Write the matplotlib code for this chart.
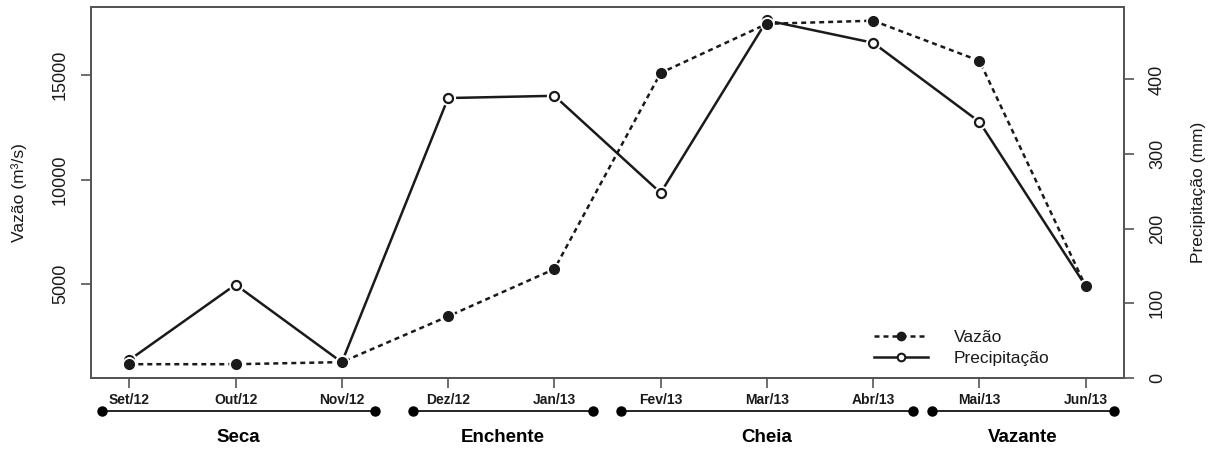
import matplotlib.pyplot as plt
import numpy as np

plt.rcParams['font.family'] = ['Liberation Sans', 'DejaVu Sans']

# monthly means, Sep/2012 - Jun/2013
meses = ['Set/12', 'Out/12', 'Nov/12', 'Dez/12', 'Jan/13',
         'Fev/13', 'Mar/13', 'Abr/13', 'Mai/13', 'Jun/13']
vazao = [1170, 1170, 1270, 3460, 5720, 15100, 17450, 17600, 15680, 4890]
precip = [24, 125, 21, 375, 378, 248, 479, 449, 343, 123]

# hydrological periods: name, start, end (month index)
periodos = ['Seca', 'Enchente', 'Cheia', 'Vazante']
inicio = [0.74, 3.67, 5.63, 8.55]
fim = [3.31, 5.36, 8.37, 10.27]

x = np.arange(1, len(meses) + 1)
fg = '#1a1a1a'
box = '#555555'

fig = plt.figure(figsize=(12.22, 4.51), dpi=100)
ax = fig.add_axes([0.0745, 0.162, 0.8453, 0.8225])
ax2 = ax.twinx()
ax.set_zorder(ax2.get_zorder() + 1)
ax.patch.set_visible(False)

# precipitation (right axis): solid line, open circles
ax2.plot(x, precip, color=fg, lw=1.8, zorder=1)
ax2.plot(x, precip, ls='none', marker='o', ms=11, mfc='white', mec='none', zorder=2)
ax2.plot(x, precip, ls='none', marker='o', ms=6.5, mfc='white', mec=fg, mew=1.6, zorder=3)

# discharge (left axis): dotted line, filled circles
ax.plot(x, vazao, color=fg, lw=1.8, ls=(0, (2.0, 1.6)), zorder=1)
ax.plot(x, vazao, ls='none', marker='o', ms=10.5, mfc='white', mec='none', zorder=2)
ax.plot(x, vazao, ls='none', marker='o', ms=7, mfc=fg, mec=fg, zorder=3)

ax.set_xlim(0.64, 10.36)
ax.set_ylim(513, 18255)
ax2.set_ylim(0, 497)

ax.set_xticks(x)
ax.set_xticklabels(meses, fontsize=10, fontweight='bold', color=fg)
ax.set_yticks([5000, 10000, 15000])
ax.set_yticklabels(['5000', '10000', '15000'], rotation=90, va='center', fontsize=13, color=fg)
ax2.set_yticks([0, 100, 200, 300, 400])
ax2.set_yticklabels(['0', '100', '200', '300', '400'], rotation=90, va='center', fontsize=13, color=fg)

ax.tick_params(axis='x', length=7, width=1.2, color=box, pad=4)
ax.tick_params(axis='y', length=7, width=1.2, color=box, pad=9)
ax2.tick_params(axis='y', length=7, width=1.2, color=box, pad=11)

for a in (ax, ax2):
    for s in a.spines.values():
        s.set_color(box)
        s.set_linewidth(1.4)

ax.set_ylabel('Vazão (m³/s)', fontsize=12.5, color=fg, labelpad=18)
ax2.set_ylabel('Precipitação (mm)', fontsize=12.5, color=fg, labelpad=18)

# season bars under the month labels
tr = ax.get_xaxis_transform()
for nome, a, b in zip(periodos, inicio, fim):
    ax.plot([a, b], [-0.089, -0.089], transform=tr, color='black', lw=1.2,
            marker='o', ms=6.5, clip_on=False)
    ax.text((a + b) / 2, -0.16, nome, transform=tr, ha='center', va='center',
            fontsize=13.5, fontweight='bold', color='black')

# legend
h1, = ax.plot([], [], color=fg, lw=1.8, ls=(0, (2.0, 1.6)), marker='o', ms=6, mfc=fg, mec=fg)
h2, = ax.plot([], [], color=fg, lw=1.8, marker='o', ms=5.5, mfc='white', mec=fg, mew=1.5)
leg = ax.legend([h1, h2], ['Vazão', 'Precipitação'], loc='lower right',
                bbox_to_anchor=(0.94, 0.0), frameon=False, fontsize=12.5,
                handlelength=3.1, handletextpad=1.5, labelspacing=0.3,
                borderaxespad=0.3)
for t in leg.get_texts():
    t.set_color(fg)

fig.savefig('out.png', dpi=100)
